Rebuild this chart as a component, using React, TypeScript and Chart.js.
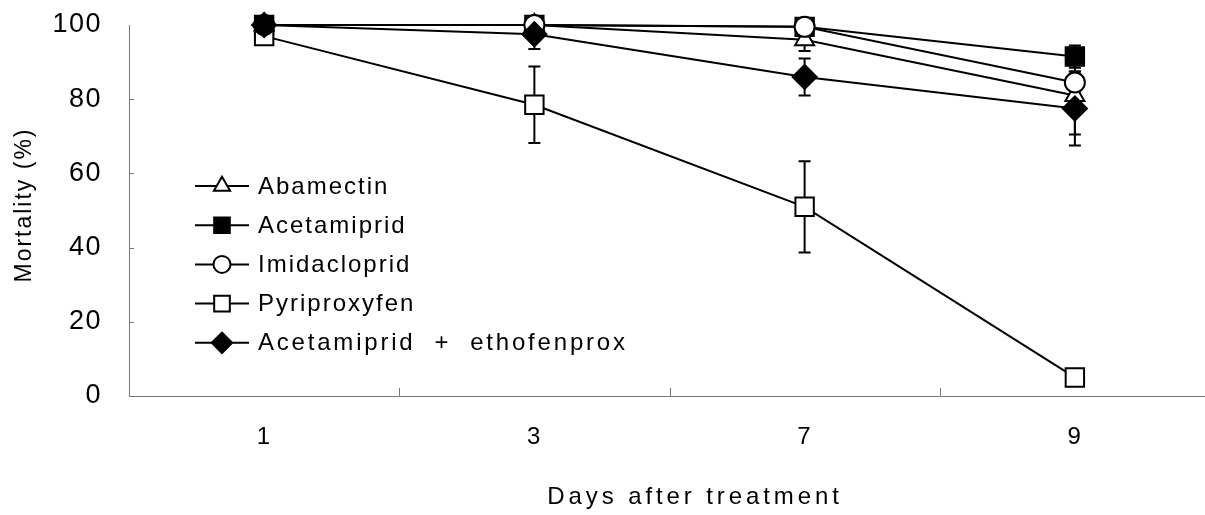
import React, { useEffect, useRef } from 'react';
import { Chart, registerables } from 'chart.js';
import { drawPoint } from 'chart.js/helpers';

Chart.register(...registerables);

const days = ['1', '3', '7', '9'];
const seriesNames = ['Abamectin', 'Acetamiprid', 'Imidacloprid', 'Pyriproxyfen', 'Acetamiprid  +  ethofenprox'];
const abamectin = [100, 100, 96, 81];
const abamectinErr = [0, 0, 3, 10.5];
const acetamiprid = [100, 100, 99.5, 91.5];
const acetamipridErr = [0, 0, 0, 3];
const imidacloprid = [100, 100, 99.5, 84.5];
const imidaclopridErr = [0, 0, 0, 3];
const pyriproxyfen = [97, 78.5, 51, 5];
const pyriproxyfenErr = [0, 10.3, 12.3, 0];
const combo = [100, 97.5, 86, 77.5];
const comboErr = [0, 4, 5, 10];
const yTicks = [0, 20, 40, 60, 80, 100];
const xTitle = 'Days after treatment';
const yTitle = 'Mortality (%)';

const FONT = '"Liberation Sans", Arial, sans-serif';
const legendSpacing = [2, 2, 2, 2, 2.8];

const spacingPlugin = {
  id: 'spacing',
  beforeDraw(chart: any) {
    (chart.ctx as any).letterSpacing = '1.5px';
  },
};

const errorBarPlugin = {
  id: 'errorBars',
  beforeDatasetsDraw(chart: any) {
    const ctx = chart.ctx;
    const ys = chart.scales.y;
    chart.data.datasets.forEach((ds: any, i: number) => {
      const meta = chart.getDatasetMeta(i);
      meta.data.forEach((pt: any, j: number) => {
        const e = ds.errors[j];
        if (!e) return;
        const v = ds.data[j];
        const yt = ys.getPixelForValue(v + e);
        const yb = ys.getPixelForValue(v - e);
        ctx.save();
        ctx.strokeStyle = '#000';
        ctx.lineWidth = 2;
        ctx.beginPath();
        ctx.moveTo(pt.x, yt);
        ctx.lineTo(pt.x, yb);
        ctx.moveTo(pt.x - 6, yt);
        ctx.lineTo(pt.x + 6, yt);
        ctx.moveTo(pt.x - 6, yb);
        ctx.lineTo(pt.x + 6, yb);
        ctx.stroke();
        ctx.restore();
      });
    });
  },
};

const decorPlugin = {
  id: 'decor',
  afterDraw(chart: any) {
    const ctx = chart.ctx;
    const xs = chart.scales.x;
    const ys = chart.scales.y;
    const area = chart.chartArea;
    ctx.save();
    // inner tick marks
    ctx.strokeStyle = '#777';
    ctx.lineWidth = 1;
    ctx.beginPath();
    for (let i = 0; i < days.length - 1; i++) {
      const bx = Math.round((xs.getPixelForValue(i) + xs.getPixelForValue(i + 1)) / 2) + 0.5;
      ctx.moveTo(bx, area.bottom);
      ctx.lineTo(bx, area.bottom - 8);
    }
    yTicks.slice(1, -1).forEach((t) => {
      const by = Math.round(ys.getPixelForValue(t)) + 0.5;
      ctx.moveTo(area.left, by);
      ctx.lineTo(area.left + 5, by);
    });
    ctx.stroke();

    // axis titles
    ctx.fillStyle = '#000';
    ctx.textAlign = 'center';
    ctx.textBaseline = 'middle';
    ctx.font = `24px ${FONT}`;
    (ctx as any).letterSpacing = '3.9px';
    ctx.fillText(xTitle, 695, 497);
    ctx.save();
    ctx.translate(25, 205);
    ctx.rotate(-Math.PI / 2);
    ctx.font = `23px ${FONT}`;
    (ctx as any).letterSpacing = '2px';
    ctx.fillText(yTitle, 0, 0);
    ctx.restore();

    // legend
    chart.data.datasets.forEach((ds: any, i: number) => {
      const ly = 186 + i * 39.2;
      ctx.strokeStyle = '#000';
      ctx.lineWidth = 2;
      ctx.beginPath();
      ctx.moveTo(195, ly);
      ctx.lineTo(249, ly);
      ctx.stroke();
      ctx.fillStyle = ds.pointBackgroundColor;
      drawPoint(ctx, { pointStyle: ds.pointStyle, rotation: 0, radius: ds.pointRadius * 0.85, borderWidth: 2 } as any, 222, ly);
      ctx.fillStyle = '#000';
      ctx.textAlign = 'left';
      ctx.textBaseline = 'middle';
      ctx.font = `24px ${FONT}`;
      (ctx as any).letterSpacing = `${legendSpacing[i]}px`;
      ctx.fillText(ds.label, 258, ly + 1);
    });
    ctx.restore();
  },
};

function makeDs(label: string, data: number[], errors: number[], pointStyle: string, fill: string, radius: number, order: number) {
  return {
    label,
    data,
    errors,
    pointStyle,
    pointBackgroundColor: fill,
    pointBorderColor: '#000',
    pointBorderWidth: 2,
    pointRadius: radius,
    borderColor: '#000',
    borderWidth: 2,
    backgroundColor: fill,
    tension: 0,
    clip: false as any,
    order,
  };
}

const zeroPad = (s: any) => {
  s.paddingTop = 0;
  s.paddingBottom = 0;
  s.paddingLeft = 0;
  s.paddingRight = 0;
};

export default function App() {
  const ref = useRef<HTMLCanvasElement>(null);
  useEffect(() => {
    if (!ref.current) return;
    const chart = new Chart(ref.current, {
      type: 'line',
      data: {
        labels: days,
        datasets: [
          makeDs(seriesNames[0], abamectin, abamectinErr, 'triangle', '#fff', 11, 2),
          makeDs(seriesNames[1], acetamiprid, acetamipridErr, 'rect', '#000', 13, 4),
          makeDs(seriesNames[2], imidacloprid, imidaclopridErr, 'circle', '#fff', 10, 1),
          makeDs(seriesNames[3], pyriproxyfen, pyriproxyfenErr, 'rect', '#fff', 13, 3),
          makeDs(seriesNames[4], combo, comboErr, 'rectRot', '#000', 12, 0),
        ] as any,
      },
      options: {
        animation: false,
        responsive: false,
        events: [],
        layout: { padding: { top: 25, left: 0, right: 20, bottom: 0 } },
        plugins: { legend: { display: false }, tooltip: { enabled: false } },
        scales: {
          x: {
            type: 'category',
            offset: true,
            grid: { display: false, drawTicks: false },
            border: { display: true, color: '#777', width: 1, dash: [6, 2] },
            ticks: { color: '#000', padding: 27, font: { size: 24, family: FONT } },
            afterFit: (s: any) => { s.height = 119; zeroPad(s); },
          },
          y: {
            min: 0,
            max: 100,
            grid: { display: false, drawTicks: false },
            border: { display: true, color: '#777', width: 1, dash: [6, 2] },
            ticks: { color: '#000', padding: 27, stepSize: 20, font: { size: 27, family: FONT } },
            afterFit: (s: any) => { s.width = 129; zeroPad(s); },
          },
        },
      },
      plugins: [spacingPlugin, errorBarPlugin, decorPlugin],
    });
    return () => chart.destroy();
  }, []);
  return (
    <div style={{ position: 'absolute', left: 0, top: 0, width: 1205, height: 515, overflow: 'hidden', background: '#fff' }}>
      <canvas ref={ref} width={1230} height={515} style={{ width: 1230, height: 515, display: 'block' }} />
    </div>
  );
}
